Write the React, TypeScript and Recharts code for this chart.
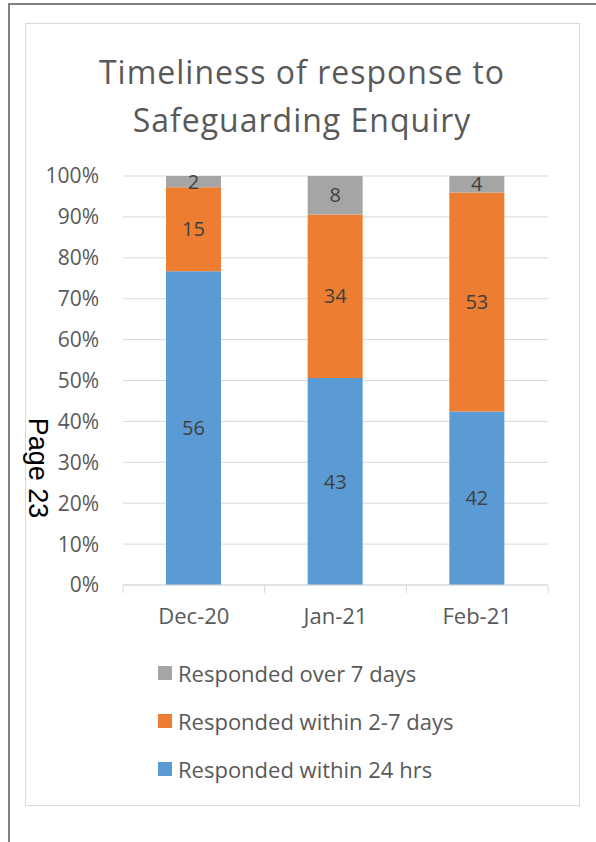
import React from "react";
import { BarChart, Bar, XAxis, YAxis, CartesianGrid, LabelList } from "recharts";

const months = ["Dec-20", "Jan-21", "Feb-21"];
const within24 = [56, 43, 42];
const within2to7 = [15, 34, 53];
const over7 = [2, 8, 4];
const yTicks = [0, 0.1, 0.2, 0.3, 0.4, 0.5, 0.6, 0.7, 0.8, 0.9, 1];

const seriesNames = {
  over7: "Responded over 7 days",
  within2to7: "Responded within 2-7 days",
  within24: "Responded within 24 hrs",
};
const colors = { within24: "#5b9bd5", within2to7: "#ed7d31", over7: "#a5a5a5" };

const data = months.map((m, i) => ({
  month: m,
  within24: within24[i],
  within2to7: within2to7[i],
  over7: over7[i],
}));

const FONT = "'Open Sans', Lato, sans-serif";
const CHART_W = 554;
const MARGIN_RIGHT = 31;
const Y_W = 98;
const BAND = (CHART_W - Y_W - MARGIN_RIGHT) / months.length;

function MonthTick(props: any) {
  const { x, y, payload, index } = props;
  return (
    <g>
      <line x1={x - BAND / 2} y1={y} x2={x - BAND / 2} y2={y + 8} stroke="#d9d9d9" />
      {index === months.length - 1 && (
        <line x1={x + BAND / 2} y1={y} x2={x + BAND / 2} y2={y + 8} stroke="#d9d9d9" />
      )}
      <text x={x} y={y + 33} textAnchor="middle" dominantBaseline="middle" fill="#595959" fontSize={22} fontFamily={FONT}>
        {payload.value}
      </text>
    </g>
  );
}

const legendOrder: Array<keyof typeof seriesNames> = ["over7", "within2to7", "within24"];

export default function App() {
  return (
    <div style={{ position: "absolute", left: 0, top: 0, width: 596, height: 842, background: "#fff", fontFamily: FONT }}>
      <div style={{ position: "absolute", left: 8, top: 3, width: 588, height: 839, borderLeft: "2px solid #808080", borderTop: "2px solid #808080" }} />
      <div style={{ position: "absolute", left: 25, top: 23, width: 553, height: 781, border: "1px solid #d9d9d9" }} />
      <div
        style={{
          position: "absolute",
          left: 25,
          top: 48,
          width: 554,
          textAlign: "center",
          fontSize: 32,
          letterSpacing: 1,
          lineHeight: "48px",
          color: "#595959",
        }}
      >
        Timeliness of response to
        <br />
        Safeguarding Enquiry
      </div>
      <div
        style={{
          position: "absolute",
          left: 37,
          top: 468,
          transform: "translate(-50%, -50%) rotate(90deg)",
          fontFamily: "'Liberation Sans', Arial, sans-serif",
          fontSize: 27,
          color: "#000",
          whiteSpace: "nowrap",
        }}
      >
        Page 23
      </div>
      <div style={{ position: "absolute", left: 25, top: 23 }}>
        <BarChart
          width={CHART_W}
          height={642}
          data={data}
          stackOffset="expand"
          margin={{ top: 153, right: MARGIN_RIGHT, bottom: 0, left: 0 }}
        >
          <CartesianGrid vertical={false} stroke="#d9d9d9" />
          <XAxis
            dataKey="month"
            height={80}
            stroke="#d9d9d9"
            tickLine={false}
            tickSize={0}
            tickMargin={0}
            tick={<MonthTick />}
            interval={0}
          />
          <YAxis
            width={Y_W}
            domain={[0, 1]}
            ticks={yTicks}
            axisLine={false}
            tickLine={false}
            tickSize={0}
            tickMargin={24}
            tickFormatter={(v) => `${Math.round(v * 100)}%`}
            tick={{ fill: "#595959", fontSize: 21, fontFamily: FONT }}
          />
          {(["within24", "within2to7", "over7"] as const).map((k) => (
            <Bar key={k} dataKey={k} stackId="a" fill={colors[k]} barSize={55} isAnimationActive={false}>
              <LabelList dataKey={k} position="center" fill="#404040" fontSize={20} fontFamily={FONT} />
            </Bar>
          ))}
        </BarChart>
      </div>
      {legendOrder.map((k, i) => (
        <div
          key={k}
          style={{
            position: "absolute",
            left: 158,
            top: 673 + i * 48 - 15,
            height: 30,
            display: "flex",
            alignItems: "center",
            fontSize: 22,
            color: "#595959",
            whiteSpace: "nowrap",
          }}
        >
          <span style={{ display: "inline-block", width: 14, height: 14, background: colors[k], marginRight: 6 }} />
          {seriesNames[k]}
        </div>
      ))}
    </div>
  );
}
